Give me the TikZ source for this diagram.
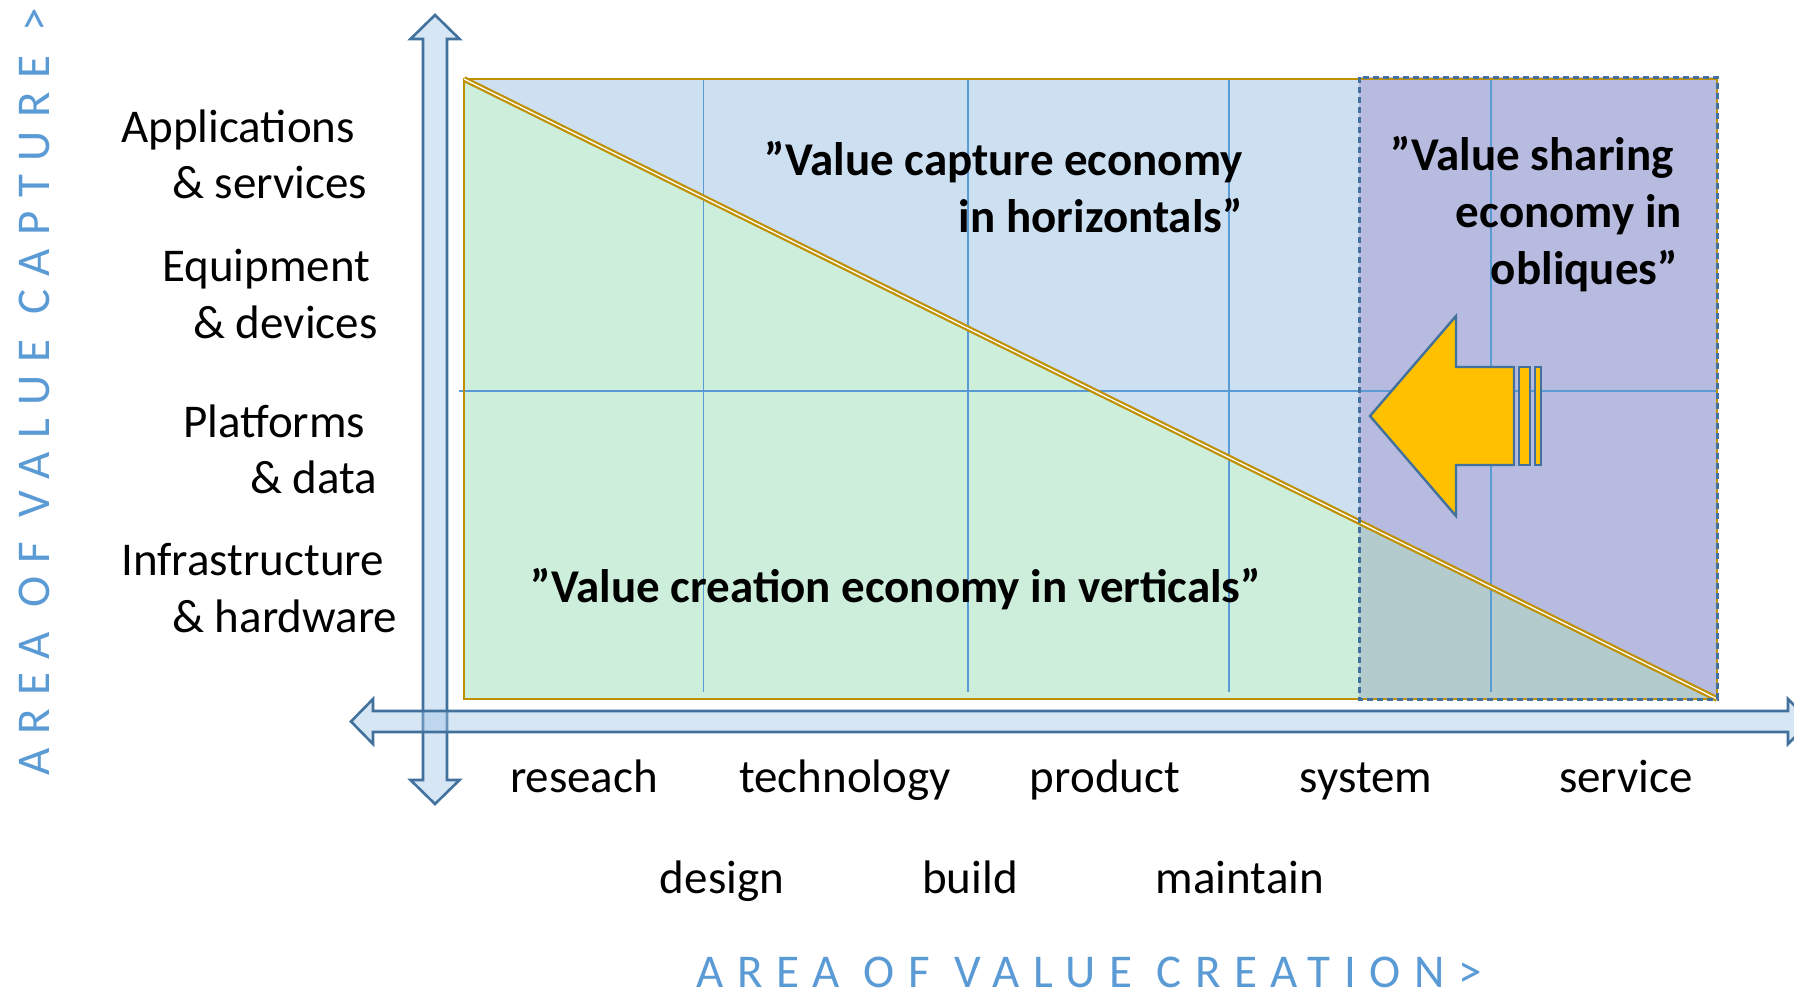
\documentclass[tikz,border=0pt]{standalone}
\usepackage{fontspec}
\setmainfont{Carlito}
\definecolor{capblue}{HTML}{CDE0F2}
\definecolor{creagreen}{HTML}{CCEEDB}
\definecolor{sharepurple}{HTML}{B7BBE0}
\definecolor{shareteal}{HTML}{B3CBCC}
\definecolor{axisfill}{HTML}{9DC3E6}
\definecolor{edgeblue}{HTML}{41719C}
\definecolor{gridblue}{HTML}{5B9BD5}
\definecolor{titleblue}{HTML}{5B9BD5}
\definecolor{gold}{HTML}{BF9000}
\definecolor{arrowyellow}{HTML}{FFC000}
\begin{document}
\begin{tikzpicture}[
            x=1pt, y=-1pt,
            txt/.style={inner sep=0pt, font=\fontsize{47}{57}\selectfont},
            boldtxt/.style={inner sep=0pt, font=\fontsize{47}{57}\selectfont\bfseries},
            axistitle/.style={inner sep=0pt, text=titleblue, font=\fontsize{47}{57}\selectfont\addfontfeature{LetterSpace=29}},
            axisarrow/.style={draw=edgeblue, line width=2.6pt, fill=axisfill, fill opacity=.42},
            gridline/.style={draw=gridblue, line width=1.2pt},
            blockarrow/.style={draw=edgeblue, line width=2.4pt, fill=arrowyellow, line join=miter},
        ]
            \useasboundingbox (0,0) rectangle (1794,993);
            \clip (0,0) rectangle (1794,993);
            \coordinate (nw) at (464,79);
            \coordinate (ne) at (1717,79);
            \coordinate (se) at (1717,699);
            \coordinate (sw) at (464,699);
            \coordinate (cut) at (1359,522);
            \fill[capblue] (nw) -- (ne) -- (se) -- cycle;
            \fill[creagreen] (nw) -- (se) -- (sw) -- cycle;
            \fill[sharepurple] (1359,77) -- (1717,77) -- (se) -- (cut) -- cycle;
            \fill[shareteal] (cut) -- (se) -- (1359,699) -- cycle;
            \foreach \x in {703.6,968,1229,1491}
                \draw[gridline] (\x,79) -- (\x,692);
            \draw[gridline] (459,391) -- (1717,391);
            \draw[draw=gold, line width=2.8pt] (nw) rectangle (se);
            \draw[draw=gold, double=white, line width=2.2pt, double distance=1.3pt] (nw) -- (se);
            \draw[draw=edgeblue, line width=3pt, dash pattern=on 6pt off 4pt] (1359,77) rectangle (1717,699);
            \draw[blockarrow] (1370,416) -- (1456,316) -- (1456,367) -- (1514,367) -- (1514,465) -- (1456,465) -- (1456,516) -- cycle;
            \draw[blockarrow] (1519,367) rectangle (1530,465);
            \draw[blockarrow] (1535,367) rectangle (1541,465);
            \draw[axisarrow] (435,15) -- (459.5,39) -- (447,39) -- (447,780) -- (459.5,780) -- (435,804) -- (410.5,780) -- (423,780) -- (423,39) -- (410.5,39) -- cycle;
            \draw[axisarrow] (351,721.5) -- (373,699) -- (373,711) -- (1788,711) -- (1788,699) -- (1810,721.5) -- (1788,744) -- (1788,732) -- (373,732) -- (373,744) -- cycle;
            \node[txt, anchor=base west] (apps) at (121,142) {Applications};
            \node[txt, anchor=base west] (appsb) at (172,198) {\& services};
            \node[txt, anchor=base west] (equip) at (162,281) {Equipment};
            \node[txt, anchor=base west] (equipb) at (193,338) {\& devices};
            \node[txt, anchor=base west] (plat) at (183,437) {Platforms};
            \node[txt, anchor=base west] (platb) at (250,493) {\& data};
            \node[txt, anchor=base west] (infra) at (121,575) {Infrastructure};
            \node[txt, anchor=base west] (infrab) at (172,632) {\& hardware};
            \node[boldtxt, anchor=base east] (capture) at (1243,175) {”Value capture economy};
            \node[boldtxt, anchor=base east] (captureb) at (1243,232) {in horizontals”};
            \node[boldtxt, anchor=base east] (share) at (1674,170) {”Value sharing};
            \node[boldtxt, anchor=base east] (shareb) at (1682,227) {economy in};
            \node[boldtxt, anchor=base east] (sharec) at (1678,284) {obliques”};
            \node[boldtxt, anchor=base] (create) at (896,602) {”Value creation economy in verticals”};
            \node[txt, anchor=base] (research) at (584,792) {reseach};
            \node[txt, anchor=base] (techno) at (845,792) {technology};
            \node[txt, anchor=base] (product) at (1105,792) {product};
            \node[txt, anchor=base] (system) at (1366,792) {system};
            \node[txt, anchor=base] (service) at (1626,792) {service};
            \node[txt, anchor=base] (design) at (722,893) {design};
            \node[txt, anchor=base] (build) at (970,893) {build};
            \node[txt, anchor=base] (maintain) at (1240,893) {maintain};
            \node[axistitle, anchor=base] (xtitle) at (1089,987) {AREA OF VALUE CREATION>};
            \node[axistitle, anchor=base, rotate=90] (ytitle) at (49,391.5) {AREA OF VALUE CAPTURE >};
        \end{tikzpicture}
\end{document}
